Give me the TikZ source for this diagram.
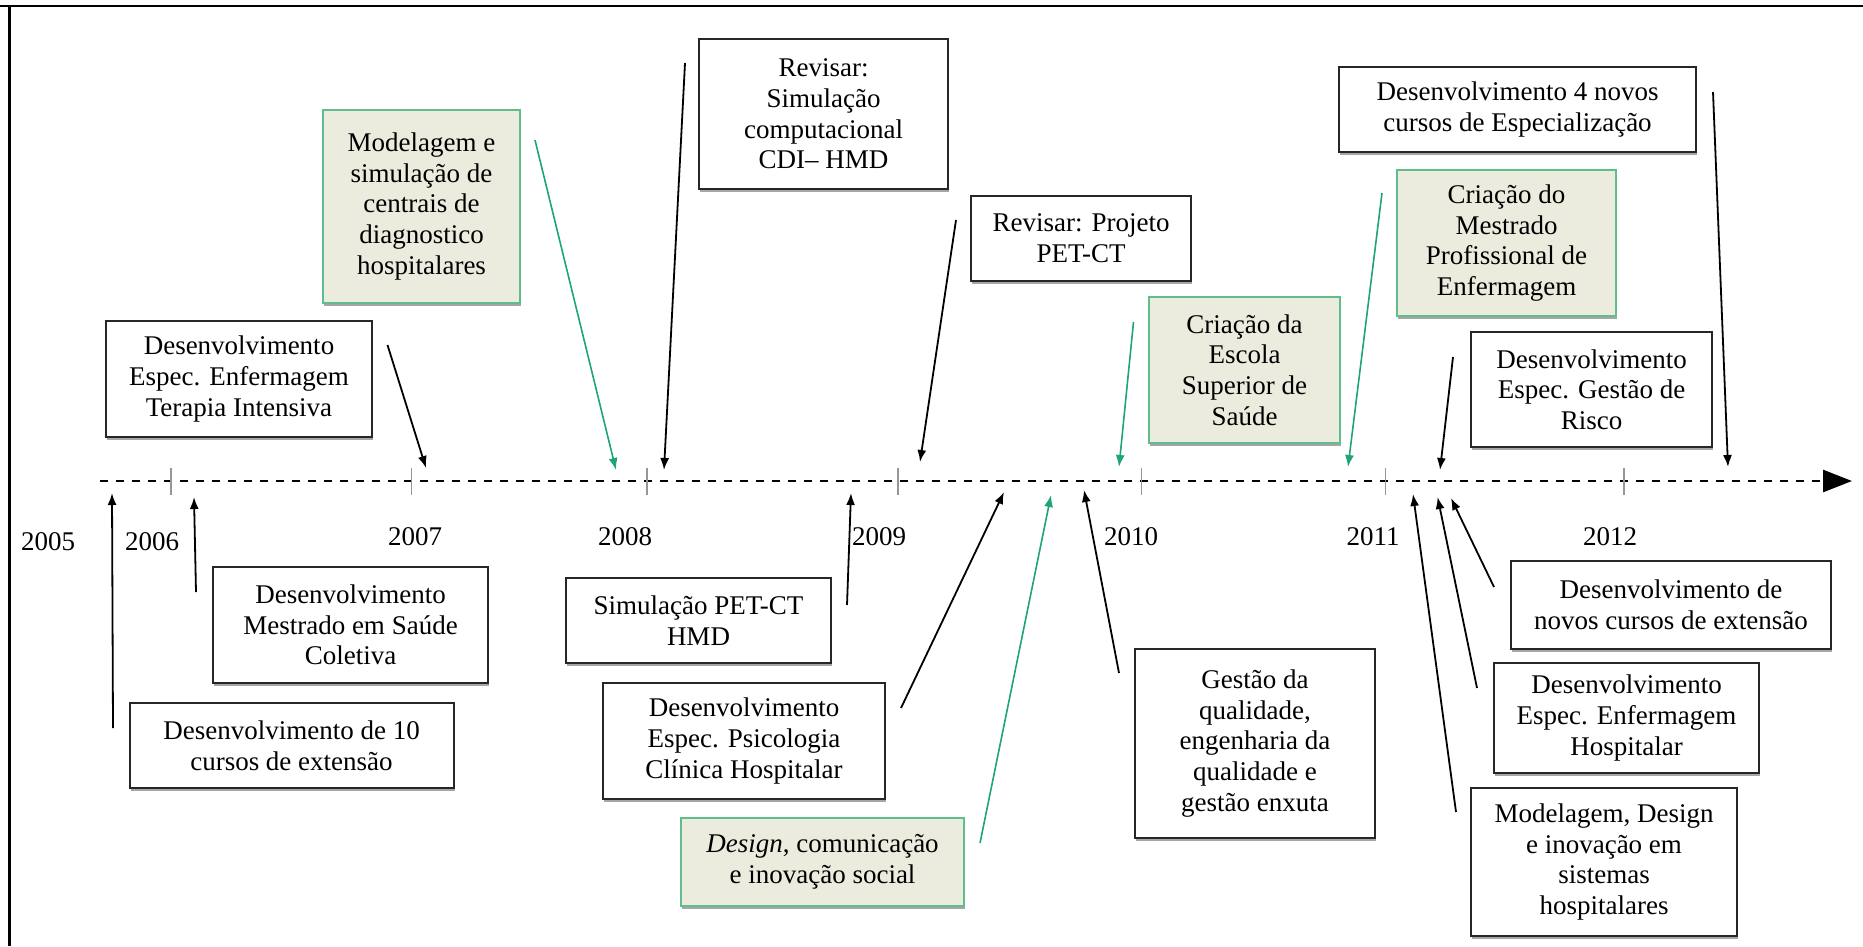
\documentclass[tikz,border=0pt]{standalone}
\usepackage{fontspec}
\setmainfont{Liberation Serif}
\usetikzlibrary{arrows.meta,shadows}
\definecolor{gborder}{RGB}{95,190,140}
\definecolor{gfill}{RGB}{236,236,222}
\definecolor{garrow}{RGB}{30,165,115}
\definecolor{tickgray}{RGB}{150,150,150}
\begin{document}
\begin{tikzpicture}[x=1pt,y=-1pt,
  txt/.style={font=\fontsize{27}{30.7}\selectfont},
  box/.style={txt, draw=black!85, line width=2pt, fill=white, align=center, inner sep=0pt,
    drop shadow={shadow xshift=1pt, shadow yshift=-2.5pt, fill=black!35, opacity=1}},
  gbox/.style={box, draw=gborder, fill=gfill},
  arr/.style={line width=1.8pt, -{Latex[length=12pt,width=9pt]}},
  garr/.style={arr, draw=garrow, line width=1.6pt},
  timeline/.style={line width=2.7pt, dash pattern=on 8pt off 8pt, -{Triangle[length=29pt,width=22pt]}},
  tickmark/.style={draw=tickgray, line width=1.5pt},
  year/.style={txt, inner sep=0pt}]
\useasboundingbox (0,0) rectangle (1863,946);
% frame
\draw[line width=2.5pt] (0,6) -- (1863,6);
\draw[line width=2.5pt] (9.5,6) -- (9.5,946);
% timeline
\coordinate (tls) at (100,481);
\coordinate (tle) at (1852,481);
\draw[timeline] (tls) -- (tle);
\foreach \x [count=\i] in {171,411.6,647,898,1141.5,1385.7,1624}{
  \coordinate (tka\i) at (\x,468);
  \coordinate (tkb\i) at (\x,495);
  \draw[tickmark] (tka\i) -- (tkb\i);
}
% years
\node[year] (y2005) at (48,542) {2005};
\node[year] (y2006) at (152,542) {2006};
\node[year] (y2007) at (415,537) {2007};
\node[year] (y2008) at (625,537) {2008};
\node[year] (y2009) at (879,537) {2009};
\node[year] (y2010) at (1131,537) {2010};
\node[year] (y2011) at (1373,537) {2011};
\node[year] (y2012) at (1610,537) {2012};
% arrows: start / end coordinates
\coordinate (sA) at (387.5,345);  \coordinate (eA) at (426,468);
\coordinate (sB) at (535,140);    \coordinate (eB) at (616,470);
\coordinate (sO) at (685,63);     \coordinate (eO) at (664,470);
\coordinate (sP) at (956,220);    \coordinate (eP) at (920,462);
\coordinate (sQ) at (1133.5,322); \coordinate (eQ) at (1119,467);
\coordinate (sN) at (1382,193);   \coordinate (eN) at (1348,467);
\coordinate (sL) at (1453,357);   \coordinate (eL) at (1440,470);
\coordinate (sM) at (1713,92);    \coordinate (eM) at (1728,467);
\coordinate (sD) at (113,728);    \coordinate (eD) at (112,493);
\coordinate (sC) at (196,592);    \coordinate (eC) at (194,497);
\coordinate (sE) at (847,605);    \coordinate (eE) at (851,493);
\coordinate (sF) at (901,708);    \coordinate (eF) at (1004,492);
\coordinate (sG) at (980,843);    \coordinate (eG) at (1051,495);
\coordinate (sH) at (1119,673);   \coordinate (eH) at (1084,490);
\coordinate (sJ) at (1456,812);   \coordinate (eJ) at (1413,494);
\coordinate (sI) at (1477,688);   \coordinate (eI) at (1437.6,497);
\coordinate (sK) at (1494,587);   \coordinate (eK) at (1451,498);
\draw[arr] (sA) -- (eA);
\draw[garr] (sB) -- (eB);
\draw[arr] (sO) -- (eO);
\draw[arr] (sP) -- (eP);
\draw[garr] (sQ) -- (eQ);
\draw[garr] (sN) -- (eN);
\draw[arr] (sL) -- (eL);
\draw[arr] (sM) -- (eM);
\draw[arr] (sD) -- (eD);
\draw[arr] (sC) -- (eC);
\draw[arr] (sE) -- (eE);
\draw[arr] (sF) -- (eF);
\draw[garr] (sG) -- (eG);
\draw[arr] (sH) -- (eH);
\draw[arr] (sJ) -- (eJ);
\draw[arr] (sI) -- (eI);
\draw[arr] (sK) -- (eK);
% boxes
\node[box, minimum width=266pt, minimum height=116pt] (A) at (239,379) {Desenvolvimento\\Espec. Enfermagem\\Terapia Intensiva};
\node[gbox, minimum width=197pt, minimum height=193pt] (B) at (421.5,206.5) {Modelagem e\\simulação de\\centrais de\\diagnostico\\hospitalares};
\node[box, minimum width=275pt, minimum height=116pt] (C) at (350.5,625) {Desenvolvimento\\Mestrado em Saúde\\Coletiva};
\node[box, minimum width=324pt, minimum height=85pt] (D) at (291.5,745.5) {Desenvolvimento de 10\\cursos de extensão};
\node[box, minimum width=265pt, minimum height=85pt] (E) at (698.5,620.5) {Simulação PET-CT\\HMD};
\node[box, minimum width=282pt, minimum height=116pt] (F) at (744,741) {Desenvolvimento\\Espec. Psicologia\\Clínica Hospitalar};
\node[gbox, minimum width=283pt, minimum height=88pt] (G) at (822.5,862) {\textit{Design}, comunicação\\e inovação social};
\node[box, minimum width=240pt, minimum height=189pt] (H) at (1255,743.5) {Gestão da\\qualidade,\\engenharia da\\qualidade e\\gestão enxuta};
\node[box, minimum width=265pt, minimum height=110pt] (I) at (1626.5,718) {Desenvolvimento\\Espec. Enfermagem\\Hospitalar};
\node[box, minimum width=266pt, minimum height=148pt] (J) at (1604,862) {Modelagem, Design\\e inovação em\\sistemas\\hospitalares};
\node[box, minimum width=320pt, minimum height=88pt] (K) at (1671,605) {Desenvolvimento de\\novos cursos de extensão};
\node[box, minimum width=241pt, minimum height=115pt] (L) at (1591.5,389.5) {Desenvolvimento\\Espec. Gestão de\\Risco};
\node[box, minimum width=357pt, minimum height=85pt] (M) at (1517.5,109.5) {Desenvolvimento 4 novos\\cursos de Especialização};
\node[gbox, minimum width=219pt, minimum height=146pt] (N) at (1506.5,243) {Criação do\\Mestrado\\Profissional de\\Enfermagem};
\node[box, minimum width=249pt, minimum height=150pt] (O) at (823.5,114) {Revisar:\\Simulação\\computacional\\CDI– HMD};
\node[box, minimum width=220pt, minimum height=85pt] (P) at (1081,238.5) {Revisar: Projeto\\PET-CT};
\node[gbox, minimum width=191pt, minimum height=146pt] (Q) at (1244.5,370) {Criação da\\Escola\\Superior de\\Saúde};
\end{tikzpicture}
\end{document}
